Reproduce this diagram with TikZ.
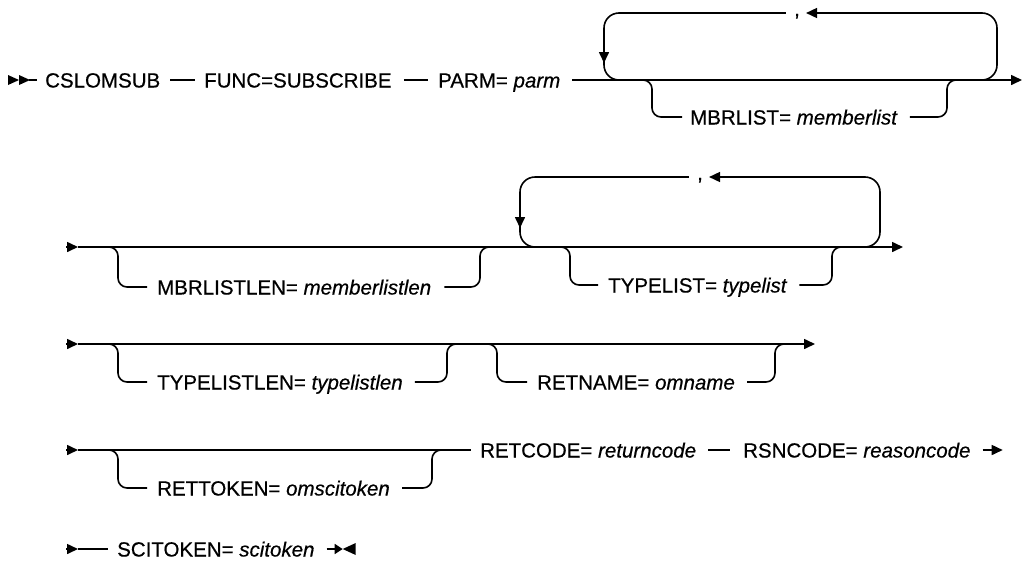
\documentclass[tikz,border=0pt]{standalone}
\usepackage{fontspec}
\setmainfont{Liberation Sans}[UprightFeatures={FakeBold=0.5},ItalicFeatures={FakeBold=0.5}]
\usetikzlibrary{arrows.meta,calc}
\begin{document}
\begin{tikzpicture}[x=1pt,y=-1pt,
 ln/.style={line width=1.6pt},
 tri/.style={-{Triangle[length=11pt,width=10pt]}},
 arr/.style={ln,tri},
 kw/.style={font=\fontsize{20.5}{24}\selectfont, inner sep=0pt, anchor=base west},
 lp/.style={ln,rounded corners=15pt},
 brk/.style={ln,rounded corners=9pt}]
\useasboundingbox (0,0) rectangle (1023,560);
% rows
\coordinate (r1) at (0,80);
\coordinate (b1) at (0,117);
\coordinate (r2) at (0,247);
\coordinate (b2) at (0,287);
\coordinate (r3) at (0,344);
\coordinate (b3) at (0,382);
\coordinate (r4) at (0,450);
\coordinate (b4) at (0,488);
\coordinate (r5) at (0,549);

% ---------- row 1
\fill (8,75) -- (19,80) -- (8,85) -- cycle;
\fill (19,75) -- (30,80) -- (19,85) -- cycle;
\node[kw] (csl) at (45,87.5) {CSLOMSUB};
\node[kw] (func) at (204,87.5) {FUNC=SUBSCRIBE};
\node[kw] (parm) at (438,87.5) {PARM= \textit{parm}};
\coordinate (e1) at (1022,80);
\draw[ln] (29,80) -- ($(csl.west|-r1)+(-8,0)$);
\draw[ln] ($(csl.east|-r1)+(10,0)$) -- ($(func.west|-r1)+(-9,0)$);
\draw[ln] ($(func.east|-r1)+(12,0)$) -- ($(parm.west|-r1)+(-10,0)$);
\draw[arr] ($(parm.east|-r1)+(12,0)$) -- (e1);
% repeat loop
\node[kw,anchor=base] (c1) at (797,16) {,};
\draw[lp,tri] (960,80) -| (997,13) -- ($(c1.east|-0,13)+(6,0)$);
\draw[lp,tri] ($(c1.west|-0,13)+(-8,0)$) -| (604,63);
\draw[lp] (604,60) |- (630,80);
% optional
\node[kw] (mbr) at (690,124.5) {MBRLIST= \textit{memberlist}};
\draw[brk] (638,80) -| (652,117) -- ($(mbr.west|-b1)+(-8,0)$);
\draw[brk] ($(mbr.east|-b1)+(12,0)$) -| (947,80) -- (960,80);

% ---------- row 2
\draw[arr] (66,247) -- (78,247);
\coordinate (e2) at (903,247);
\draw[arr] (78,247) -- (e2);
\node[kw] (mll) at (157,294.5) {MBRLISTLEN= \textit{memberlistlen}};
\draw[brk] (106,247) -| (118,287) -- ($(mll.west|-b2)+(-10,0)$);
\draw[brk] ($(mll.east|-b2)+(13,0)$) -| (480,247) -- (492,247);
\node[kw,anchor=base] (c2) at (700,180) {,};
\draw[lp,tri] (860,247) -| (880,177) -- ($(c2.east|-0,177)+(6,0)$);
\draw[lp,tri] ($(c2.west|-0,177)+(-8,0)$) -| (520,228);
\draw[lp] (520,225) |- (545,247);
\node[kw] (tl) at (608,292.5) {TYPELIST= \textit{typelist}};
\draw[brk] (558,247) -| (570,285) -- ($(tl.west|-0,285)+(-10,0)$);
\draw[brk] ($(tl.east|-0,285)+(12,0)$) -| (832,247) -- (845,247);

% ---------- row 3
\draw[arr] (66,344) -- (78,344);
\coordinate (e3) at (815,344);
\draw[arr] (78,344) -- (e3);
\node[kw] (tll) at (157,389.5) {TYPELISTLEN= \textit{typelistlen}};
\draw[brk] (106,344) -| (118,382) -- ($(tll.west|-b3)+(-10,0)$);
\draw[brk] ($(tll.east|-b3)+(12,0)$) -| (447,344) -- (460,344);
\node[kw] (rn) at (537,389.5) {RETNAME= \textit{omname}};
\draw[brk] (485,344) -| (497,382) -- ($(rn.west|-b3)+(-10,0)$);
\draw[brk] ($(rn.east|-b3)+(12,0)$) -| (775,344) -- (788,344);

% ---------- row 4
\draw[arr] (66,450) -- (78,450);
\node[kw] (rt) at (157,495.5) {RETTOKEN= \textit{omscitoken}};
\node[kw] (rc) at (480,457.5) {RETCODE= \textit{returncode}};
\node[kw] (rs) at (743,457.5) {RSNCODE= \textit{reasoncode}};
\draw[ln] (78,450) -- ($(rc.west|-r4)+(-9,0)$);
\draw[brk] (106,450) -| (118,488) -- ($(rt.west|-b4)+(-10,0)$);
\draw[brk] ($(rt.east|-b4)+(12,0)$) -| (432,450) -- (445,450);
\draw[ln] ($(rc.east|-r4)+(12,0)$) -- ($(rs.west|-r4)+(-13,0)$);
\draw[arr] ($(rs.east|-r4)+(12,0)$) -- ($(rs.east|-r4)+(32,0)$);

% ---------- row 5
\draw[arr] (66,549) -- (78,549);
\node[kw] (sc) at (117,556.5) {SCITOKEN= \textit{scitoken}};
\draw[ln] (78,549) -- ($(sc.west|-r5)+(-9,0)$);
\coordinate (e5) at ($(sc.east|-r5)+(28,0)$);
\draw[ln,-{Triangle[length=8pt,width=10pt]}] ($(sc.east|-r5)+(12,0)$) -- (e5);
\fill ($(e5)+(13,-6)$) -- (e5) -- ($(e5)+(13,6)$) -- cycle;
\end{tikzpicture}
\end{document}
